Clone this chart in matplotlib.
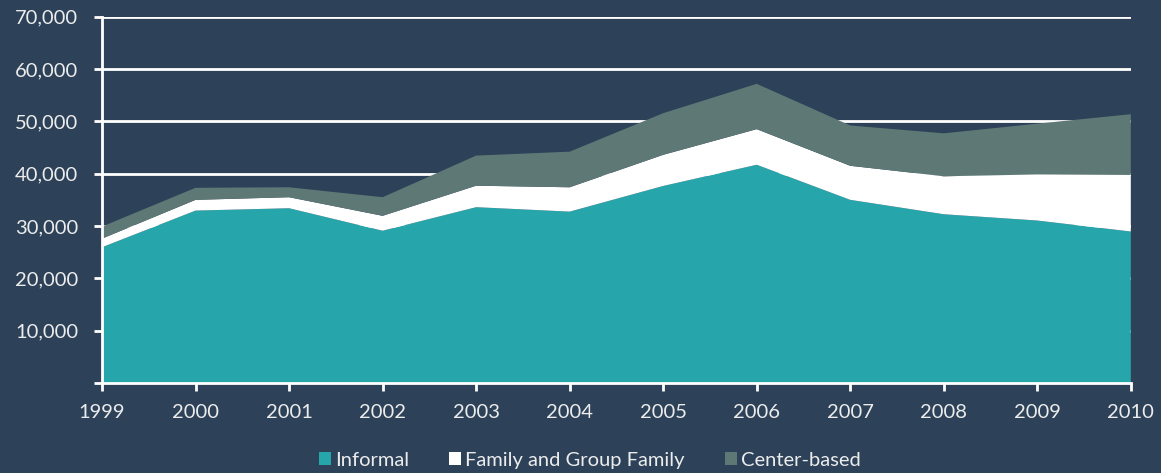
import matplotlib
matplotlib.use("Agg")
import matplotlib.pyplot as plt
from matplotlib.patches import Patch

years = [1999, 2000, 2001, 2002, 2003, 2004, 2005, 2006, 2007, 2008, 2009, 2010]
informal = [25950, 32950, 33400, 29100, 33600, 32750, 37650, 41700, 35000, 32250, 31050, 28950]
family = [1650, 2050, 2100, 2850, 4100, 4650, 5950, 6800, 6500, 7250, 8800, 10800]
center = [2300, 2300, 1900, 3550, 5750, 6800, 7950, 8650, 7700, 8200, 9700, 11600]
series_names = ["Informal", "Family and Group Family", "Center-based"]
y_ticks = [0, 10000, 20000, 30000, 40000, 50000, 60000, 70000]

bg = "#2d4259"
colors = ["#26a5aa", "#ffffff", "#5e7876"]
text_color = "#ececec"

plt.rcParams['font.family'] = ['Lato', 'DejaVu Sans']

fig = plt.figure(figsize=(11.61, 4.73), dpi=100, facecolor=bg)
ax = fig.add_axes([0.0879, 0.19, 0.974 - 0.0879, 0.775])
ax.set_facecolor(bg)

ax.stackplot(years, informal, family, center, colors=colors, linewidth=0, zorder=3)

ax.set_xlim(years[0], years[-1])
ax.set_ylim(0, 70000)
ax.set_yticks(y_ticks)
ax.set_yticklabels(["" if v == 0 else f"{v:,}" for v in y_ticks])
ax.set_xticks(years)
ax.set_xticklabels([str(y) for y in years])

ax.yaxis.grid(True, color="white", linewidth=2, zorder=1)
ax.set_axisbelow(True)

for side in ["top", "right"]:
    ax.spines[side].set_visible(False)
for side in ["left", "bottom"]:
    ax.spines[side].set_color("white")
    ax.spines[side].set_linewidth(2)
    ax.spines[side].set_zorder(5)

ax.tick_params(axis="both", colors="white", length=6, width=2, labelcolor=text_color, labelsize=14.5)
ax.tick_params(axis="x", pad=9)
ax.tick_params(axis="y", pad=11)

handles = [Patch(facecolor=c, edgecolor="none") for c in colors]
leg = fig.legend(handles, series_names, loc="center", bbox_to_anchor=(0.508, 0.027), ncol=3,
                 frameon=False, fontsize=14.5, handlelength=0.6, handleheight=0.6,
                 handletextpad=0.2, columnspacing=2.0, labelcolor=text_color)

fig.savefig("out.png", dpi=100, facecolor=bg)
